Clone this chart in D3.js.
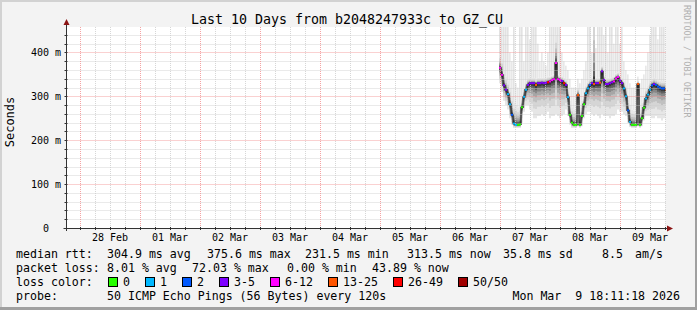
<!DOCTYPE html>
<html>
<head>
<meta charset="utf-8">
<script src="https://cdn.jsdelivr.net/npm/d3@7"></script>
<style>
  body { margin: 0; background: #f3f3f3; }
  text { font-family: "DejaVu Sans Mono", monospace; fill: #000; white-space: pre; }
</style>
</head>
<body>
<div id="chart"></div>
<script>
const W = 697, H = 310;

// time window of the graph (10 days)
const tStart = Date.UTC(2026, 1, 27, 18, 11, 18),
      tEnd = Date.UTC(2026, 2, 9, 18, 11, 18);
// first sample and step between samples
const tFirst = Date.UTC(2026, 2, 6, 23, 36),
      tStep = 48 * 60 * 1000;

// median rtt in ms
const median = [365, 349, 325, 315, 305, 282, 258, 238, 235, 235, 236, 275, 299, 315, 326, 330,
  330, 330, 326, 330, 330, 331, 330, 331, 332, 334, 337, 339, 376, 339, 337, 335,
  330, 326, 298, 258, 240, 235, 235, 303, 235, 255, 282, 307, 318, 326, 330, 328,
  330, 330, 331, 357, 337, 328, 328, 330, 332, 334, 341, 344, 336, 330, 318, 300,
  268, 242, 235, 235, 235, 328, 235, 250, 274, 295, 304, 315, 325, 328, 326, 322,
  320, 318, 318, 315];
// lost pings out of 50
const loss = [8, 8, 4, 4, 1, 1, 2, 1, 1, 0, 0, 0, 1, 1, 4, 4,
  4, 4, 15, 4, 4, 4, 4, 4, 30, 8, 8, 8, 8, 8, 8, 4,
  30, 4, 1, 0, 0, 0, 0, 15, 0, 0, 0, 1, 1, 2, 4, 15,
  4, 4, 15, 4, 4, 4, 4, 4, 4, 8, 8, 8, 4, 4, 1, 1,
  2, 1, 0, 0, 0, 15, 0, 0, 0, 1, 1, 1, 2, 4, 2, 2,
  2, 2, 2, 20];
// lower and upper edge of the smoke, ms
const smokeLo = [330, 310, 290, 280, 270, 250, 235, 228, 228, 228, 228, 240, 265, 280, 280, 270,
  265, 250, 250, 255, 255, 260, 255, 260, 265, 250, 255, 255, 260, 255, 250, 255,
  260, 270, 255, 235, 228, 228, 228, 232, 228, 232, 250, 260, 265, 265, 260, 255,
  260, 255, 250, 260, 255, 255, 255, 250, 255, 255, 260, 270, 265, 265, 260, 255,
  240, 230, 228, 228, 228, 232, 228, 232, 245, 255, 255, 255, 250, 250, 255, 250,
  250, 245, 250, 250];
const smokeHi = [395, 385, 360, 345, 335, 320, 300, 285, 280, 275, 280, 300, 320, 335, 342, 342,
  342, 342, 340, 342, 342, 342, 342, 343, 345, 346, 348, 350, 440, 350, 348, 345,
  342, 338, 320, 290, 275, 270, 272, 320, 275, 290, 305, 325, 335, 340, 342, 520,
  342, 342, 343, 370, 347, 342, 342, 342, 344, 346, 352, 355, 347, 342, 335, 325,
  300, 280, 270, 268, 270, 335, 270, 285, 300, 318, 325, 335, 340, 342, 340, 338,
  336, 335, 335, 333];
// slowest ping, ms (above 458 is off the graph)
const pingMax = [520, 520, 520, 520, 470, 400, 380, 520, 330, 320, 520, 520, 380, 520, 520, 430,
  520, 520, 520, 420, 380, 400, 380, 370, 400, 520, 520, 520, 520, 520, 520, 400,
  380, 370, 360, 340, 320, 320, 320, 340, 330, 340, 360, 380, 520, 520, 400, 520,
  410, 520, 520, 520, 440, 520, 400, 520, 520, 420, 520, 520, 420, 520, 380, 360,
  350, 330, 320, 320, 320, 345, 330, 340, 350, 370, 400, 440, 520, 520, 520, 430,
  520, 520, 520, 400];

const lossLabels = ["0", "1", "2", "3-5", "6-12", "13-25", "26-49", "50/50"];
const lossUpper = [0, 1, 2, 5, 12, 25, 49, 50];
const lossColors = ["#26ff00", "#00b8ff", "#0059ff", "#7e00ff", "#ff00ff", "#ff5500", "#ff0000", "#a10000"];

const yTicks = [0, 100, 200, 300, 400];
const yTickLabels = ["0  ", "100 m", "200 m", "300 m", "400 m"];

const rttLine = ["304.9 ms avg", "375.6 ms max", "231.5 ms min", "313.5 ms now", "35.8 ms sd", "8.5", "am/s"];
const lossLine = ["8.01 % avg", "72.03 % max", "0.00 % min", "43.89 % now"];

const data = median.map((m, i) => ({
  t: tFirst + i * tStep, med: m, loss: loss[i],
  lo: smokeLo[i], hi: smokeHi[i], max: pingMax[i]
}));
// repeat the last sample so the step area covers its column
const drawData = data.concat([Object.assign({}, data[data.length - 1], {t: tFirst + data.length * tStep})]);

const pL = 66.5, pR = 665.5, pT = 27, pB = 228;
const x = d3.scaleUtc().domain([tStart, tEnd]).range([pL - 1, pR]);
const y = d3.scaleLinear().domain([0, 458]).range([pB, pT]);

const svg = d3.select("#chart").append("svg")
    .attr("width", W)
    .attr("height", H);

// frame
svg.append("rect").attr("width", W).attr("height", H).attr("fill", "#f3f3f3");
svg.append("rect").attr("x", 0).attr("y", 0).attr("width", W).attr("height", 2).attr("fill", "#d2d2d2");
svg.append("rect").attr("x", 0).attr("y", 0).attr("width", 2).attr("height", H).attr("fill", "#d2d2d2");
svg.append("rect").attr("x", 0).attr("y", H - 3).attr("width", W).attr("height", 3).attr("fill", "#a0a0a0");
svg.append("rect").attr("x", W - 2).attr("y", 0).attr("width", 2).attr("height", H).attr("fill", "#a0a0a0");

// plot background
svg.append("rect")
    .attr("x", pL).attr("y", pT)
    .attr("width", pR - pL).attr("height", pB - pT)
    .attr("fill", "#ffffff");

svg.append("clipPath").attr("id", "clip")
  .append("rect")
    .attr("x", pL).attr("y", pT)
    .attr("width", pR - pL).attr("height", pB - pT);

const plot = svg.append("g").attr("clip-path", "url(#clip)");

// outlier pings, one thin streak per sample
plot.selectAll(".outlier").data(data.filter(d => d.max > d.hi)).enter().append("rect")
    .attr("x", d => x(d.t))
    .attr("width", 1.6)
    .attr("y", d => y(Math.min(d.max, 470)))
    .attr("height", d => y(d.hi) - y(Math.min(d.max, 470)))
    .attr("fill", d => d.max > 458 ? "#e2e2e2" : "#e8e8e8");

// smoke, light to dark
const smokeFrac = [1, 0.72, 0.52, 0.37, 0.25, 0.16, 0.09];
const smokeColor = ["#e6e6e6", "#d5d5d5", "#c0c0c0", "#a6a6a6", "#878787", "#606060", "#3a3a3a"];
smokeFrac.forEach((f, k) => {
  plot.append("path")
      .datum(drawData)
      .attr("fill", smokeColor[k])
      .attr("d", d3.area()
          .x(d => x(d.t))
          .y0(d => y(d.med - (d.med - d.lo) * f))
          .y1(d => y(d.med + (d.hi - d.med) * f))
          .curve(d3.curveStepAfter));
});

// median core
plot.append("path")
    .datum(drawData)
    .attr("fill", "none")
    .attr("stroke", "#1e1e1e")
    .attr("stroke-width", 1.3)
    .attr("d", d3.line()
        .x(d => x(d.t))
        .y(d => y(d.med))
        .curve(d3.curveStepAfter));

// grid
const grid = svg.append("g").attr("stroke-width", 1).attr("stroke-dasharray", "1,1");
const minorX = d3.utcHour.every(6).range(tStart, tEnd).filter(d => d.getUTCHours() !== 0);
const majorX = d3.utcDay.range(tStart, tEnd);
grid.selectAll(".vminor").data(minorX).enter().append("line")
    .attr("x1", d => Math.round(x(d)) + 0.5).attr("x2", d => Math.round(x(d)) + 0.5)
    .attr("y1", pT).attr("y2", pB)
    .attr("stroke", "#cccccc").attr("stroke-opacity", 0.8);
const minorY = d3.range(20, 458, 20).filter(v => v % 100 !== 0);
grid.selectAll(".hminor").data(minorY).enter().append("line")
    .attr("x1", pL).attr("x2", pR)
    .attr("y1", d => Math.round(y(d)) + 0.5).attr("y2", d => Math.round(y(d)) + 0.5)
    .attr("stroke", "#cccccc").attr("stroke-opacity", 0.8);
grid.selectAll(".vmajor").data(majorX).enter().append("line")
    .attr("x1", d => Math.round(x(d)) + 0.5).attr("x2", d => Math.round(x(d)) + 0.5)
    .attr("y1", pT).attr("y2", pB)
    .attr("stroke", "#f28c8c").attr("stroke-opacity", 0.8);
grid.selectAll(".hmajor").data(yTicks.slice(1)).enter().append("line")
    .attr("x1", pL).attr("x2", pR)
    .attr("y1", d => Math.round(y(d)) + 0.5).attr("y2", d => Math.round(y(d)) + 0.5)
    .attr("stroke", "#f28c8c").attr("stroke-opacity", 0.8);

// median coloured by loss
const lossIndex = l => lossUpper.findIndex(u => l <= u);
svg.append("g").attr("clip-path", "url(#clip)")
  .selectAll("rect").data(data).enter().append("rect")
    .attr("x", d => x(d.t))
    .attr("y", d => y(d.med) - 1)
    .attr("width", 2)
    .attr("height", 2)
    .attr("fill", d => lossColors[lossIndex(d.loss)]);

// axes
const axisColor = "#333333", arrowColor = "#8b1414";
svg.append("line").attr("x1", pL).attr("x2", pL).attr("y1", pB + 3).attr("y2", 24)
    .attr("stroke", axisColor);
svg.append("line").attr("x1", pL - 3).attr("x2", 668).attr("y1", pB + 0.5).attr("y2", pB + 0.5)
    .attr("stroke", axisColor);
svg.append("path").attr("d", `M${pL - 3},25 L${pL + 3},25 L${pL},19 Z`).attr("fill", arrowColor);
svg.append("path").attr("d", `M667,${pB - 2.5} L667,${pB + 3.5} L673,${pB + 0.5} Z`).attr("fill", arrowColor);

// axis ticks
svg.selectAll(".xt").data(minorX.concat(majorX)).enter().append("line")
    .attr("x1", d => Math.round(x(d)) + 0.5).attr("x2", d => Math.round(x(d)) + 0.5)
    .attr("y1", pB - 1).attr("y2", pB + 2)
    .attr("stroke", axisColor);
svg.selectAll(".yt").data(minorY.concat(yTicks.slice(1))).enter().append("line")
    .attr("x1", pL - 2).attr("x2", pL + 1)
    .attr("y1", d => Math.round(y(d)) + 0.5).attr("y2", d => Math.round(y(d)) + 0.5)
    .attr("stroke", axisColor);

// tick labels
const noonTicks = majorX.map(d => new Date(+d + 12 * 3600 * 1000)).filter(d => +d < tEnd);
const fmt = d3.utcFormat("%d %b");
svg.selectAll(".xl").data(noonTicks).enter().append("text")
    .attr("x", d => x(d))
    .attr("y", 241)
    .attr("text-anchor", "middle")
    .style("font-size", "10px")
    .text(d => fmt(d));
svg.selectAll(".yl").data(yTicks).enter().append("text")
    .attr("x", 61)
    .attr("y", d => y(d) + 3.5)
    .attr("text-anchor", "end")
    .style("font-size", "10px")
    .text((d, i) => yTickLabels[i]);

// title and labels
svg.append("text").attr("x", 347).attr("y", 24).attr("text-anchor", "middle")
    .style("font-size", "13.3px")
    .text("Last 10 Days from b2048247933c to GZ_CU");
svg.append("text").attr("transform", "translate(14,122) rotate(-90)").attr("text-anchor", "middle")
    .style("font-size", "12px")
    .text("Seconds");
svg.append("text").attr("transform", "translate(684,5) rotate(90)")
    .style("font-size", "8.5px").style("fill", "#b0b0b0")
    .text("RRDTOOL / TOBI OETIKER");

// legend
const leg = svg.append("g").style("font-size", "11.6px");
const rttX = [107, 207, 305, 407, 503, 602, 635];
const lossX = [107, 192, 287, 372];
leg.append("text").attr("x", 16).attr("y", 258).text("median rtt:");
rttLine.forEach((s, i) => leg.append("text").attr("x", rttX[i]).attr("y", 258).text(s));
leg.append("text").attr("x", 16).attr("y", 272).text("packet loss:");
lossLine.forEach((s, i) => leg.append("text").attr("x", lossX[i]).attr("y", 272).text(s));
leg.append("text").attr("x", 16).attr("y", 286).text("loss color:");
const boxX = [108, 145, 182, 219, 270, 328, 393, 458];
lossLabels.forEach((s, i) => {
  leg.append("rect").attr("x", boxX[i] + 0.5).attr("y", 277.5).attr("width", 9).attr("height", 9)
      .attr("fill", lossColors[i]).attr("stroke", "#000");
  leg.append("text").attr("x", boxX[i] + 15).attr("y", 286).text(s);
});
leg.append("text").attr("x", 16).attr("y", 300).text("probe:");
leg.append("text").attr("x", 107).attr("y", 300).text("50 ICMP Echo Pings (56 Bytes) every 120s");
leg.append("text").attr("x", 680).attr("y", 300).attr("text-anchor", "end").text("Mon Mar  9 18:11:18 2026");
</script>
</body>
</html>
